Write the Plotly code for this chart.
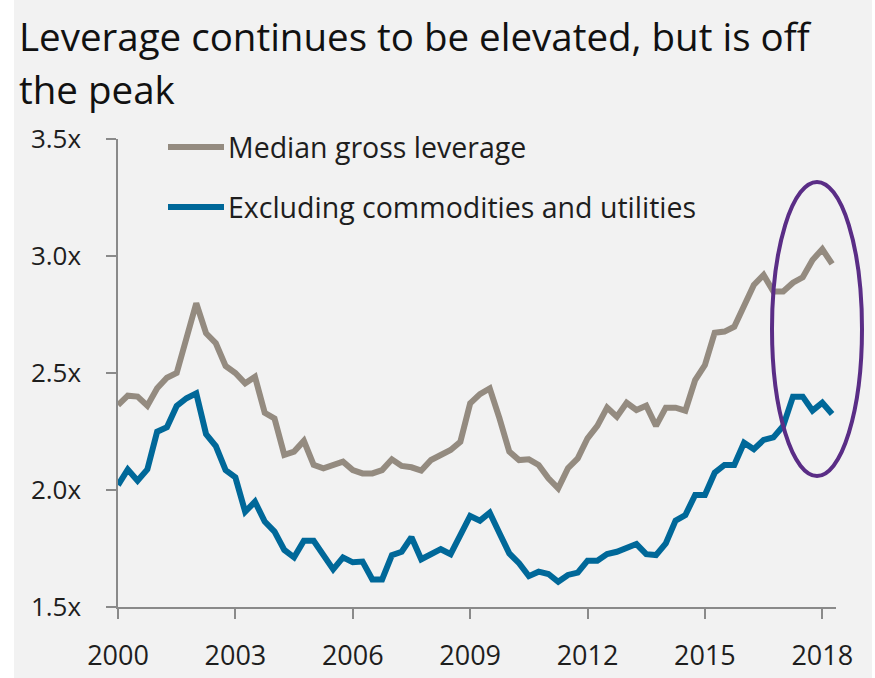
import plotly.graph_objects as go

# Quarterly observations, 2000 Q1 through 2018 Q2
start_year = 2000
n_quarters = 74
quarters = [start_year + i / 4 for i in range(n_quarters)]

median_gross = [
    2.363, 2.403, 2.399, 2.360, 2.435, 2.480, 2.500, 2.648, 2.798, 2.670,
    2.627, 2.530, 2.500, 2.456, 2.484, 2.330, 2.306, 2.150, 2.164, 2.210,
    2.107, 2.093, 2.104, 2.121, 2.085, 2.071, 2.071, 2.085, 2.131, 2.103,
    2.097, 2.083, 2.128, 2.150, 2.171, 2.206, 2.370, 2.410, 2.434, 2.306,
    2.164, 2.128, 2.131, 2.107, 2.050, 2.007, 2.093, 2.135, 2.221, 2.274,
    2.352, 2.313, 2.373, 2.342, 2.360, 2.274, 2.352, 2.352, 2.339, 2.470,
    2.534, 2.672, 2.677, 2.698, 2.791, 2.876, 2.919, 2.848, 2.848, 2.886,
    2.909, 2.983, 3.029, 2.966,
]

ex_commod_util = [
    2.021, 2.088, 2.040, 2.088, 2.249, 2.268, 2.359, 2.392, 2.413, 2.239,
    2.188, 2.085, 2.054, 1.907, 1.950, 1.865, 1.822, 1.744, 1.712, 1.783,
    1.783, 1.726, 1.661, 1.712, 1.691, 1.694, 1.618, 1.618, 1.722, 1.736,
    1.798, 1.704, 1.726, 1.747, 1.726, 1.803, 1.889, 1.869, 1.903, 1.815,
    1.729, 1.687, 1.632, 1.651, 1.641, 1.608, 1.637, 1.647, 1.698, 1.698,
    1.726, 1.736, 1.755, 1.769, 1.726, 1.722, 1.772, 1.869, 1.893, 1.979,
    1.979, 2.074, 2.107, 2.107, 2.202, 2.174, 2.214, 2.225, 2.274, 2.399,
    2.399, 2.339, 2.373, 2.325,
]

series_names = ["Median gross leverage", "Excluding commodities and utilities"]
series_colors = ["#948b80", "#006899"]

x_tickvals = [2000, 2003, 2006, 2009, 2012, 2015, 2018]
y_tickvals = [1.5, 2.0, 2.5, 3.0, 3.5]
y_ticktext = [f"{v:.1f}x" for v in y_tickvals]

title_lines = ["Leverage continues to be elevated, but is off", "the peak"]

W, H = 875, 678
L, R, T, B = 118, 39, 139, 71
PW, PH = W - L - R, H - T - B

FONT = "Open Sans"
TXT = "#1e1e1e"
AXIS = "#8a8a8a"


def px(xp):
    return (xp - L) / PW


def py(yp):
    return (H - B - yp) / PH


fig = go.Figure()
for vals, name, col in zip([median_gross, ex_commod_util], series_names, series_colors):
    fig.add_trace(go.Scatter(
        x=quarters, y=vals, mode="lines", name=name, showlegend=False,
        line=dict(color=col, width=6, shape="linear"),
        hoverinfo="skip",
    ))

shapes = []
annotations = []

# white frame strips at the page edges
shapes.append(dict(type="rect", xref="paper", yref="paper", layer="below",
                   x0=px(0), x1=px(14), y0=py(H), y1=py(0),
                   fillcolor="white", line=dict(width=0)))
shapes.append(dict(type="rect", xref="paper", yref="paper", layer="below",
                   x0=px(872), x1=px(W), y0=py(H), y1=py(0),
                   fillcolor="white", line=dict(width=0)))

# legend keys
for i, (name, col) in enumerate(zip(series_names, series_colors)):
    yl = 147 + 60 * i
    shapes.append(dict(type="line", xref="paper", yref="paper",
                       x0=px(168), x1=px(224), y0=py(yl), y1=py(yl),
                       line=dict(color=col, width=6)))
    annotations.append(dict(text=name, xref="paper", yref="paper",
                            x=px(226), y=py(yl), xanchor="left", yanchor="middle",
                            showarrow=False, font=dict(family=FONT, size=28.5, color=TXT)))

# highlight around the latest readings
shapes.append(dict(type="circle", xref="paper", yref="paper",
                   x0=px(772), x1=px(862), y0=py(476), y1=py(182),
                   line=dict(color="#5a2d86", width=4)))

# two-line headline
for j, line in enumerate(title_lines):
    annotations.append(dict(text=line, xref="paper", yref="paper",
                            x=px(17), y=py(36 + 53 * j), xanchor="left", yanchor="middle",
                            showarrow=False, font=dict(family=FONT, size=38.5, color="#111111")))

fig.update_layout(
    width=W, height=H,
    margin=dict(l=L, r=R, t=T, b=B, pad=0),
    paper_bgcolor="#f2f2f2", plot_bgcolor="#f2f2f2",
    font=dict(family=FONT, color=TXT),
    shapes=shapes, annotations=annotations,
    xaxis=dict(
        range=[2000, 2018.35], tickvals=x_tickvals,
        showgrid=False, zeroline=False, automargin=False,
        showline=True, linecolor=AXIS, linewidth=1.5,
        ticks="outside", ticklen=10, tickwidth=1.5, tickcolor=AXIS,
        tickfont=dict(family=FONT, size=27, color=TXT),
        ticklabelstandoff=14,
    ),
    yaxis=dict(
        range=[1.5, 3.5], tickvals=y_tickvals, ticktext=y_ticktext,
        showgrid=False, zeroline=False, automargin=False,
        showline=True, linecolor=AXIS, linewidth=1.5,
        ticks="outside", ticklen=10, tickwidth=1.5, tickcolor=AXIS,
        tickfont=dict(family=FONT, size=26, color=TXT),
        ticklabelstandoff=20,
    ),
)

fig.write_html("out.html")
